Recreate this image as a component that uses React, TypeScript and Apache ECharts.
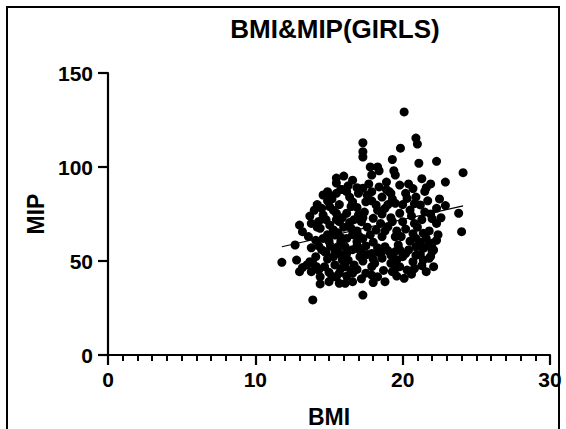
import React, { useEffect, useRef } from "react";
import * as echarts from "echarts";

const title = "BMI&MIP(GIRLS)";
const xName = "BMI";
const yName = "MIP";
const xTicks = [0, 10, 20, 30];
const yTicks = [0, 50, 100, 150];

// BMI values
const bmi = [
  20.1, 20.9, 21.0, 19.85, 19.3, 21.1, 22.3, 24.1, 22.9, 21.9, 21.3, 19.4, 19.5, 18.3, 18.4, 17.9, 19.8, 20.7, 18.4, 19.1,
  17.3, 17.3, 17.3, 17.8, 16.0, 15.5, 15.5, 16.6, 17.3, 16.2, 14.9, 14.6, 15.5, 14.8, 16.6, 17.5, 15.05, 13.7, 14.6, 15.5,
  16.2, 13.0, 13.2, 14.4, 15.05, 15.7, 16.5, 17.2, 15.4, 14.6, 12.7, 15.8, 16.9, 14.7, 14.1, 15.4, 16.2, 17.1, 11.8, 12.8,
  13.0, 13.5, 13.9, 13.8, 14.3, 14.4, 14.4, 13.9, 14.8, 15.2, 15.4, 15.7, 16.1, 16.3, 16.6, 16.7, 16.6, 17.3, 17.5, 15.7,
  17.1, 16.1, 15.5, 18.1, 18.3, 17.9, 18.3, 18.8, 19.2, 19.3, 19.5, 20.1, 20.3, 20.7, 21.4, 21.8, 22.1, 21.6, 22.0, 20.0,
  19.2, 19.2, 17.9, 20.3, 21.2, 22.3, 23.8, 24.0, 18.2, 18.8, 19.5, 19.8, 20.5, 20.0, 20.8, 21.4, 22.3, 22.0, 20.9, 19.7,
  20.4, 18.8, 18.2, 18.0, 19.0, 19.5, 17.9, 22.1, 21.4, 22.9, 13.7, 14.15, 15.3, 15.7,
  15.9, 16.9, 18.9, 20.2, 21.5, 17.6, 16.4, 15.2,
  14.2, 14.9, 15.7, 16.9, 17.9, 18.6, 19.3, 20.0, 20.9, 21.7, 22.5, 15.3, 16.5,
  14.0, 14.8, 15.9, 16.7, 17.4, 18.6, 19.2, 20.6, 21.3, 21.9, 22.6, 17.0,
  13.8, 14.2, 15.3, 16.0, 16.9, 17.6, 18.5, 19.3, 20.2, 21.0, 21.8, 22.4, 17.8,
  13.6, 14.1, 15.0, 16.2, 16.6, 17.3, 18.0, 18.6, 19.9, 20.5, 21.2, 22.3, 15.6,
  13.8, 14.3, 15.1, 16.1, 16.6, 17.5, 18.3, 19.0, 19.8, 20.9, 21.7, 16.9,
  14.9, 15.9, 17.3, 18.6, 19.6, 20.9, 21.9, 17.6, 15.3,
  14.7, 15.8, 16.9, 17.9, 18.7, 19.8, 20.8, 21.3, 13.2,
  15.0, 16.2, 17.2, 18.0, 19.6, 20.6, 15.0,
  14.5, 15.1, 15.8, 16.3, 17.0, 17.7, 18.9, 20.4, 21.6, 14.3, 15.5, 16.4, 17.3, 18.3, 19.0, 20.8, 21.5, 22.0,
  14.9, 15.8, 17.0, 18.8, 19.6, 20.7, 21.6, 14.5, 15.6, 17.2, 18.5, 20.2, 21.2, 16.0, 18.0, 19.5, 16.5,
];

// MIP values
const mip = [
  129.3, 115.4, 112.2, 110, 104, 102, 103, 97, 92, 91, 93.8, 98, 95.7, 100, 98, 95.7, 90.4, 88.5, 89.4, 86.9,
  112.9, 108.1, 105.3, 100, 95.2, 94.1, 91.5, 93, 88.7, 86.9, 86.9, 85.1, 86, 85, 81.5, 81.5, 78.9, 73.9, 74.5, 75.4,
  75.4, 69.1, 65.6, 67.4, 69.1, 70.9, 67.4, 70.9, 63.8, 62, 58.5, 60.3, 60.3, 55, 52.3, 55.9, 54, 55.9, 49.3, 50.5,
  44.3, 47.9, 48.8, 44.3, 45.2, 41.6, 37.8, 29.3, 54.4, 41.6, 47.9, 43.5, 38.1, 50.5, 39, 47.9, 43.5, 31.9, 43.5, 54,
  52.3, 47, 41.6, 48.8, 55, 42.5, 41.6, 39, 48.8, 44.3, 55, 40.8, 45.2, 49.6, 50.5, 51.4, 47, 44.3, 55, 52.3,
  53.2, 86, 86.9, 83.3, 79.8, 78, 75.4, 65.6, 79.8, 78, 80.7, 75.4, 77.1, 70.9, 70, 64.7, 70, 59.4, 62, 58.5,
  55.9, 57.6, 66.5, 72.7, 68.2, 62.9, 54, 55.9, 56.7, 79.5, 49.6, 47, 41.6, 38.1,
  88, 89, 88, 86, 87, 85, 84, 83,
  80, 82, 80, 78.5, 82, 84, 83, 80, 84, 82, 83, 77, 79,
  77, 72, 73, 72, 76, 75, 73, 74, 72, 75, 73, 74.5,
  70, 68, 66.5, 68, 66, 68, 70, 71, 67, 68, 66, 64, 64,
  63, 61, 60.5, 62, 64, 62, 60, 63, 63, 60.5, 60, 61, 65,
  57, 58, 58, 57.5, 56, 58, 57, 55.5, 56, 57.5, 58, 58,
  51, 50.5, 50, 51.5, 50.5, 53, 52.5, 53.5, 52.3,
  47, 46, 45.5, 47, 45, 47, 46, 47.5, 46.5,
  44, 42, 40.5, 38.5, 42, 43, 39,
  78, 84, 88, 90, 86, 91, 92, 91, 89, 71, 72, 70.5, 73, 77, 80, 80.5, 76, 72.5,
  64, 62.5, 63.5, 66, 66, 64.5, 62, 56, 57.5, 56.5, 54, 54, 53.5, 52, 51, 46, 45,
];

// Linear fit: MIP = intercept + slope * BMI
const fitSlope = [1.77];
const fitIntercept = [36.7];

export default function App() {
  const ref = useRef<HTMLDivElement>(null);
  useEffect(() => {
    document.body.style.margin = "0";
    if (!ref.current) return;
    const chart = echarts.init(ref.current, null, { renderer: "svg" });
    const pts = bmi.map((x, i) => [x, mip[i]]);
    const xmin = Math.min(...bmi);
    const xmax = Math.max(...bmi);
    const fit = [xmin, xmax].map((x) => [x, fitIntercept[0] + fitSlope[0] * x]);
    const font = "'Liberation Sans', Arial, Helvetica, sans-serif";
    const axisCommon = {
      axisLine: { show: true, onZero: false, lineStyle: { color: "#000", width: 2.2 } },
      axisTick: { show: true, inside: false, length: 10, lineStyle: { color: "#000", width: 2.2 } },
      splitLine: { show: false },
      axisLabel: { color: "#000", fontSize: 21, fontWeight: "bold", fontFamily: font },
      nameLocation: "middle" as const,
      nameTextStyle: { color: "#000", fontSize: 23, fontWeight: "bold", fontFamily: font },
    };
    chart.setOption({
      animation: false,
      backgroundColor: "#fff",
      title: {
        text: title,
        left: 330,
        top: 11,
        textAlign: "center",
        textStyle: { color: "#000", fontSize: 26, fontWeight: "bold", fontFamily: font },
      },
      grid: { left: 108, right: 16, top: 73, bottom: 74, containLabel: false, outerBoundsMode: "none" },
      xAxis: {
        type: "value",
        min: xTicks[0],
        max: xTicks[xTicks.length - 1],
        interval: 10,
        name: xName,
        nameGap: 50,
        ...axisCommon,
        axisLabel: { ...axisCommon.axisLabel, margin: 14 },
        minorTick: { show: true, splitNumber: 10, length: 6, lineStyle: { color: "#000", width: 2 } },
      },
      yAxis: {
        type: "value",
        min: yTicks[0],
        max: yTicks[yTicks.length - 1],
        interval: 50,
        name: yName,
        nameGap: 60,
        nameRotate: 90,
        ...axisCommon,
        axisLabel: { ...axisCommon.axisLabel, margin: 15 },
      },
      graphic: [
        {
          type: "rect",
          shape: { x: 7, y: 7, width: 552, height: 440 },
          style: { fill: "none", stroke: "#000", lineWidth: 2 },
          silent: true,
        },
      ],
      series: [
        {
          type: "scatter",
          data: pts,
          symbol: "circle",
          symbolSize: 9,
          itemStyle: { color: "#000", opacity: 1 },
          z: 2,
        },
        {
          type: "line",
          data: fit,
          showSymbol: false,
          lineStyle: { color: "#000", width: 1.2 },
          z: 3,
        },
      ],
    });
    return () => chart.dispose();
  }, []);
  return <div ref={ref} style={{ width: 566, height: 429 }} />;
}
